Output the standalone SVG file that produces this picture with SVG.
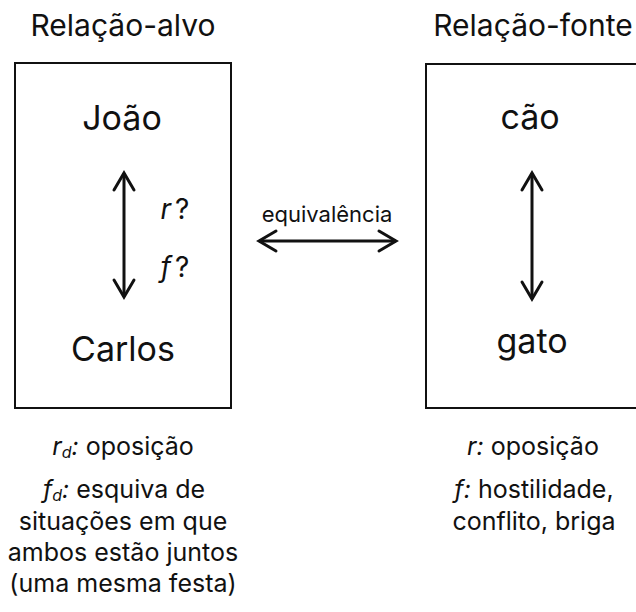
<svg xmlns="http://www.w3.org/2000/svg" width="636" height="612" viewBox="0 0 636 612">
<defs>
<style>
text{font-family:Inter,"Open Sans","Liberation Sans",sans-serif;fill:#111;text-anchor:middle}
.title{font-size:30px}
.big{font-size:34px}
.q{font-size:28px}
.lab{font-size:22px}
.note{font-size:25px}
.sub{font-size:16px}
.it{font-style:italic}
.box{fill:#fff;stroke:#111;stroke-width:2}
.arr{stroke:#111;stroke-width:3;fill:none;marker-start:url(#ah);marker-end:url(#ah)}
</style>
<marker id="ah" markerUnits="userSpaceOnUse" markerWidth="30" markerHeight="30" viewBox="-20 -15 30 30" refX="0" refY="0" orient="auto-start-reverse">
<path d="M-17,-10 L0,0 L-17,10" fill="none" stroke="#111" stroke-width="3" stroke-linecap="round"/>
</marker>
</defs>
<g id="target">
<text class="title" x="123" y="36">Relação-alvo</text>
<rect class="box" x="15" y="63" width="216" height="345"/>
<text class="big" x="122" y="130">João</text>
<text class="big" x="123" y="361">Carlos</text>
<text class="q" x="175" y="219"><tspan class="it">r</tspan><tspan dx="4">?</tspan></text>
<text class="q" x="175" y="277"><tspan class="it">f</tspan><tspan dx="4">?</tspan></text>
</g>
<g id="source">
<text class="title" x="533" y="36">Relação-fonte</text>
<rect class="box" x="426" y="64" width="216" height="344"/>
<text class="big" x="530" y="129">cão</text>
<text class="big" x="532" y="353">gato</text>
</g>
<g id="connectors">
<line class="arr" x1="124" y1="173" x2="124" y2="297"/>
<line class="arr" x1="532" y1="173" x2="532" y2="299"/>
<line class="arr" x1="259" y1="241" x2="396" y2="241"/>
<text class="lab" x="327" y="222">equivalência</text>
</g>
<g id="target-notes">
<text class="note" x="123" y="455"><tspan class="it">r</tspan><tspan class="it sub" dy="3">d</tspan><tspan class="it" dy="-3">:</tspan> oposição</text>
<text class="note" x="124" y="498"><tspan class="it">f</tspan><tspan class="it sub" dy="3">d</tspan><tspan class="it" dy="-3">:</tspan> esquiva de</text>
<text class="note" x="123" y="530">situações em que</text>
<text class="note" x="123" y="561">ambos estão juntos</text>
<text class="note" x="123" y="592">(uma mesma festa)</text>
</g>
<g id="source-notes">
<text class="note" x="533" y="455"><tspan class="it">r:</tspan> oposição</text>
<text class="note" x="534" y="498"><tspan class="it">f:</tspan> hostilidade,</text>
<text class="note" x="534" y="530">conflito, briga</text>
</g>
</svg>
